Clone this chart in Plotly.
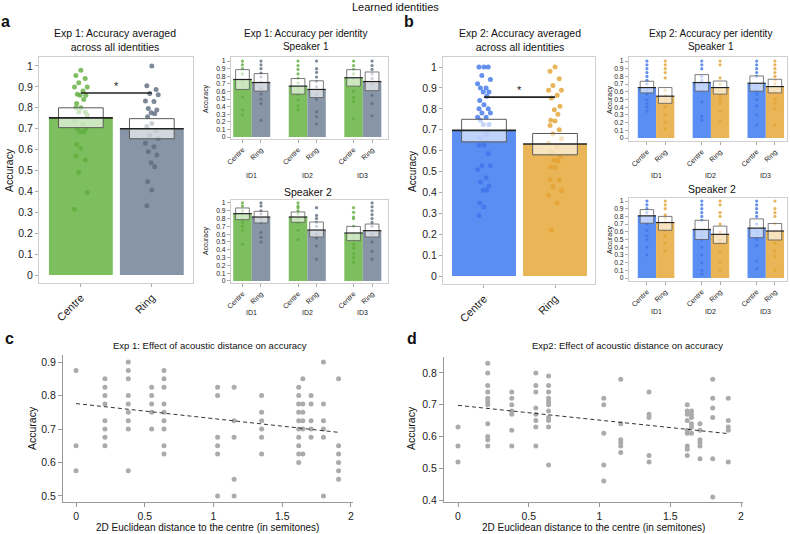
import plotly.graph_objects as go

W, H = 790, 534
def px(x): return x / W
def py(y): return 1 - y / H

FONT = "Liberation Sans, Arial, sans-serif"

# ---------------- data ----------------
conditions = ["Centre", "Ring"]
id_labels = ["ID1", "ID2", "ID3"]
acc_ticks = [0, 0.1, 0.2, 0.3, 0.4, 0.5, 0.6, 0.7, 0.8, 0.9, 1]
acc_ticktext = ["0", "0.1", "0.2", "0.3", "0.4", "0.5", "0.6", "0.7", "0.8", "0.9", "1"]

# Exp 1 averaged
exp1_mean = [0.752, 0.700]
exp1_lo = [0.705, 0.652]
exp1_hi = [0.800, 0.748]
exp1_sig = 0.871
exp1_centre_pts = [0.98, 0.955, 0.94, 0.92, 0.90, 0.90, 0.88, 0.865, 0.86, 0.86, 0.84, 0.82, 0.80, 0.80,
                   0.78, 0.78, 0.765, 0.74, 0.72, 0.70, 0.70, 0.685, 0.685, 0.625, 0.605, 0.57, 0.55,
                   0.49, 0.395, 0.315]
exp1_ring_pts = [1.0, 0.905, 0.887, 0.868, 0.862, 0.833, 0.83, 0.797, 0.79, 0.776, 0.772, 0.757, 0.725,
                 0.71, 0.69, 0.67, 0.653, 0.63, 0.614, 0.59, 0.574, 0.537, 0.518, 0.447, 0.407, 0.332]

# Exp 2 averaged
exp2_mean = [0.697, 0.632]
exp2_lo = [0.642, 0.580]
exp2_hi = [0.750, 0.682]
exp2_sig = 0.856
exp2_centre_pts = [1.0, 1.0, 1.0, 0.96, 0.94, 0.92, 0.90, 0.90, 0.88, 0.88, 0.86, 0.84, 0.82, 0.80, 0.80,
                   0.78, 0.78, 0.76, 0.76, 0.745, 0.725, 0.725, 0.68, 0.66, 0.626, 0.626, 0.586, 0.528,
                   0.528, 0.51, 0.47, 0.45, 0.43, 0.41, 0.41, 0.35, 0.33, 0.29]
exp2_ring_pts = [1.0, 0.98, 0.944, 0.912, 0.889, 0.889, 0.865, 0.852, 0.812, 0.796, 0.774, 0.745, 0.742,
                 0.72, 0.70, 0.68, 0.657, 0.637, 0.618, 0.594, 0.573, 0.554, 0.551, 0.522, 0.519, 0.462,
                 0.459, 0.427, 0.408, 0.387, 0.35, 0.22]

# Exp 1 per identity, speaker 1
e1s1_c_mean = [0.757, 0.670, 0.780]
e1s1_c_lo = [0.626, 0.565, 0.670]
e1s1_c_hi = [0.887, 0.770, 0.887]
e1s1_r_mean = [0.717, 0.626, 0.730]
e1s1_r_lo = [0.604, 0.520, 0.610]
e1s1_r_hi = [0.835, 0.740, 0.856]
e1s1_c_pts = [[1.0, 0.95, 0.9, 0.83, 0.75, 0.7, 0.53, 0.36, 0.29],
              [1.0, 0.94, 0.89, 0.83, 0.77, 0.71, 0.64, 0.56, 0.49, 0.41, 0.36],
              [1.0, 0.94, 0.89, 0.83, 0.77, 0.7, 0.6, 0.52, 0.47, 0.24]]
e1s1_r_pts = [[1.0, 0.95, 0.9, 0.84, 0.79, 0.72, 0.64, 0.565, 0.5, 0.44, 0.22],
              [1.0, 0.9, 0.85, 0.79, 0.73, 0.66, 0.56, 0.5, 0.33, 0.27, 0.17],
              [1.0, 0.94, 0.89, 0.83, 0.77, 0.7, 0.55, 0.44, 0.28]]

# Exp 1 per identity, speaker 2
e1s2_c_mean = [0.863, 0.820, 0.615]
e1s2_c_lo = [0.786, 0.752, 0.517]
e1s2_c_hi = [0.936, 0.885, 0.700]
e1s2_r_mean = [0.820, 0.653, 0.645]
e1s2_r_lo = [0.744, 0.564, 0.564]
e1s2_r_hi = [0.893, 0.756, 0.730]
e1s2_c_pts = [[1.0, 0.96, 0.9, 0.86, 0.8, 0.75, 0.7, 0.65, 0.47],
              [1.0, 0.96, 0.94, 0.9, 0.86, 0.8, 0.75, 0.65, 0.53],
              [0.94, 0.88, 0.82, 0.8, 0.7, 0.6, 0.55, 0.47, 0.42, 0.35, 0.3, 0.24]]
e1s2_r_pts = [[1.0, 0.96, 0.9, 0.86, 0.8, 0.75, 0.62, 0.56, 0.5],
              [0.94, 0.84, 0.8, 0.75, 0.7, 0.6, 0.55, 0.45, 0.28],
              [1.0, 0.95, 0.9, 0.85, 0.8, 0.75, 0.7, 0.6, 0.5, 0.38, 0.28]]

# Exp 2 per identity, speaker 1
e2s1_c_mean = [0.655, 0.720, 0.711]
e2s1_c_lo = [0.586, 0.608, 0.608]
e2s1_c_hi = [0.737, 0.823, 0.806]
e2s1_r_mean = [0.543, 0.655, 0.668]
e2s1_r_lo = [0.450, 0.570, 0.586]
e2s1_r_hi = [0.655, 0.740, 0.763]
e2s1_c_pts = [[1.0, 0.95, 0.9, 0.85, 0.8, 0.75, 0.7, 0.62, 0.57, 0.5, 0.45, 0.4, 0.35],
              [1.0, 0.95, 0.9, 0.8, 0.75, 0.62, 0.47, 0.28, 0.23],
              [1.0, 0.95, 0.9, 0.85, 0.8, 0.7, 0.62, 0.57, 0.5, 0.42, 0.3, 0.17]]
e2s1_r_pts = [[1.0, 0.95, 0.9, 0.85, 0.78, 0.62, 0.55, 0.5, 0.4, 0.3, 0.2, 0.12],
              [1.0, 0.95, 0.78, 0.7, 0.62, 0.55, 0.5, 0.45, 0.35, 0.22],
              [1.0, 0.95, 0.9, 0.85, 0.8, 0.75, 0.7, 0.6, 0.5, 0.45, 0.38, 0.17]]

# Exp 2 per identity, speaker 2
e2s2_c_mean = [0.807, 0.630, 0.648]
e2s2_c_lo = [0.712, 0.500, 0.524]
e2s2_c_hi = [0.888, 0.750, 0.768]
e2s2_r_mean = [0.720, 0.567, 0.610]
e2s2_r_lo = [0.620, 0.450, 0.494]
e2s2_r_hi = [0.800, 0.674, 0.708]
e2s2_c_pts = [[1.0, 0.95, 0.9, 0.85, 0.8, 0.7, 0.62, 0.55, 0.5, 0.4, 0.3],
              [1.0, 0.95, 0.9, 0.85, 0.8, 0.75, 0.62, 0.55, 0.5, 0.4, 0.3, 0.2, 0.1, 0.05],
              [1.0, 0.95, 0.9, 0.85, 0.8, 0.7, 0.6, 0.5, 0.42, 0.22, 0.12]]
e2s2_r_pts = [[1.0, 0.95, 0.9, 0.82, 0.78, 0.72, 0.62, 0.55, 0.45, 0.35],
              [1.0, 0.95, 0.85, 0.8, 0.7, 0.6, 0.5, 0.45, 0.35, 0.2, 0.1],
              [1.0, 0.9, 0.85, 0.8, 0.7, 0.6, 0.45, 0.35, 0.28, 0.1]]

# Acoustic distance panels
dist_cols = [0, 0.21, 0.38, 0.55, 0.64, 1.03, 1.15, 1.35, 1.62, 1.65, 1.71, 1.80, 1.91]
exp1_acc_cols = [
    [0.875, 0.65, 0.575],
    [0.85, 0.825, 0.8, 0.775, 0.725, 0.7, 0.675, 0.65],
    [0.9, 0.875, 0.85, 0.8, 0.775, 0.75, 0.725, 0.7, 0.575],
    [0.825, 0.8, 0.775, 0.75, 0.7],
    [0.875, 0.85, 0.825, 0.775, 0.75, 0.725, 0.7, 0.65, 0.625],
    [0.825, 0.8, 0.675, 0.65, 0.625, 0.5],
    [0.825, 0.725, 0.675, 0.55, 0.5],
    [0.8, 0.75, 0.725, 0.7, 0.675, 0.625],
    [0.825, 0.8, 0.775, 0.75, 0.725, 0.7, 0.675, 0.65, 0.625, 0.6],
    [0.85, 0.775, 0.75, 0.725, 0.7, 0.625],
    [0.8, 0.775, 0.725, 0.7, 0.675],
    [0.9, 0.775, 0.725, 0.7, 0.675, 0.5],
    [0.85, 0.65, 0.625, 0.6, 0.575, 0.55],
]
exp2_acc_cols = [
    [0.63, 0.57, 0.52],
    [0.83, 0.80, 0.76, 0.74, 0.72, 0.71, 0.70, 0.64, 0.60, 0.59, 0.57],
    [0.74, 0.72, 0.70, 0.68, 0.67, 0.62, 0.57],
    [0.80, 0.76, 0.74, 0.69, 0.67, 0.65, 0.63, 0.57],
    [0.79, 0.76, 0.74, 0.72, 0.71, 0.70, 0.68, 0.66, 0.65, 0.63, 0.51],
    [0.72, 0.70, 0.61, 0.51, 0.46],
    [0.78, 0.64, 0.59, 0.58, 0.57, 0.55],
    [0.74, 0.67, 0.66, 0.54, 0.52],
    [0.70, 0.68, 0.67, 0.65, 0.62, 0.61, 0.57, 0.56, 0.54],
    [0.68, 0.67, 0.66, 0.64, 0.63, 0.61],
    [0.64, 0.62, 0.59, 0.58, 0.57, 0.53],
    [0.78, 0.72, 0.69, 0.66, 0.53, 0.41],
    [0.72, 0.65, 0.63, 0.62, 0.52],
]
trend1_x = [0, 1.91]
trend1_y = [0.776, 0.690]
trend2_x = [0, 1.91]
trend2_y = [0.698, 0.609]

# ---------------- styling ----------------
GREEN, GREEN_D = "#7dbf5e", "#5fae3c"
GREY, GREY_D = "#8795a6", "#5e6b7e"
BLUE, BLUE_D = "#5b8ef3", "#3d74ea"
ORANGE, ORANGE_D = "#eab556", "#e3a232"
JITTER = [0.0, -0.07, 0.06, -0.03, 0.09, -0.09, 0.03, -0.05, 0.07, -0.01, 0.04, -0.06]

fig = go.Figure()
shapes = []
annotations = []

def axname(i, kind):
    return kind if i == 1 else f"{kind}{i}"

def layname(i, kind):
    return f"{kind}axis" if i == 1 else f"{kind}axis{i}"

def add_group(i, xs, means, los, his, color, dcolor, pts, bar_w, box_w, dot_size, jitter, lw):
    xa, ya = axname(i, "x"), axname(i, "y")
    fig.add_trace(go.Bar(x=xs, y=means, width=bar_w, marker=dict(color=color, line=dict(width=0)),
                         xaxis=xa, yaxis=ya, showlegend=False, hoverinfo="skip"))
    dx, dy = [], []
    for x, plist in zip(xs, pts):
        for k, v in enumerate(plist):
            dx.append(x + (JITTER[k % len(JITTER)] if jitter else 0))
            dy.append(v)
    fig.add_trace(go.Scatter(x=dx, y=dy, mode="markers", xaxis=xa, yaxis=ya, showlegend=False,
                             marker=dict(color=dcolor, size=dot_size, opacity=0.8, line=dict(width=0)),
                             hoverinfo="skip"))
    for x, m, lo, hi in zip(xs, means, los, his):
        shapes.append(dict(type="rect", xref=xa, yref=ya, x0=x - box_w / 2, x1=x + box_w / 2, y0=lo, y1=hi,
                           fillcolor="rgba(255,255,255,0.62)", line=dict(color="#5a5a5a", width=lw), layer="above"))
        shapes.append(dict(type="line", xref=xa, yref=ya, x0=x - bar_w / 2, x1=x + bar_w / 2, y0=m, y1=m,
                           line=dict(color="#222", width=1.6 if lw > 0.9 else 1.2), layer="above"))

def bar_axes(i, xdom, ydom, xr, yr, xtickvals, xticktext, tfs, xtfs):
    fig.layout[layname(i, "x")] = dict(
        domain=xdom, range=xr, anchor=axname(i, "y"), showline=True, mirror=True, automargin=False,
        linecolor="#cfcfcf", linewidth=1, ticks="outside", ticklen=3, tickcolor="#aaa",
        tickvals=xtickvals, ticktext=xticktext, tickangle=-45, showgrid=False, zeroline=False,
        tickfont=dict(size=xtfs, color="#222", family=FONT), fixedrange=True)
    fig.layout[layname(i, "y")] = dict(
        domain=ydom, range=yr, anchor=axname(i, "x"), showline=True, mirror=True, automargin=False,
        linecolor="#cfcfcf", linewidth=1, ticks="outside", ticklen=3, tickcolor="#aaa",
        tickvals=acc_ticks, ticktext=acc_ticktext, showgrid=False, zeroline=False,
        tickfont=dict(size=tfs, color="#222", family=FONT), fixedrange=True)

# --- main panels ---
main_x = [0, 1]
add_group(1, [main_x[0]], [exp1_mean[0]], [exp1_lo[0]], [exp1_hi[0]], GREEN, GREEN_D, [exp1_centre_pts], 0.9, 0.63, 5, True, 1)
add_group(1, [main_x[1]], [exp1_mean[1]], [exp1_lo[1]], [exp1_hi[1]], GREY, GREY_D, [exp1_ring_pts], 0.9, 0.63, 5, True, 1)
bar_axes(1, [px(39), px(193)], [py(283), py(57)], [-0.59, 1.58], [-0.038, 1.043], main_x, conditions, 10.5, 11)

add_group(4, [main_x[0]], [exp2_mean[0]], [exp2_lo[0]], [exp2_hi[0]], BLUE, BLUE_D, [exp2_centre_pts], 0.9, 0.63, 5, True, 1)
add_group(4, [main_x[1]], [exp2_mean[1]], [exp2_lo[1]], [exp2_hi[1]], ORANGE, ORANGE_D, [exp2_ring_pts], 0.9, 0.63, 5, True, 1)
bar_axes(4, [px(443), px(595)], [py(284), py(57)], [-0.577, 1.563], [-0.038, 1.048], main_x, conditions, 10.5, 11)

# significance brackets
for i, sig in ((1, exp1_sig), (4, exp2_sig)):
    xa, ya = axname(i, "x"), axname(i, "y")
    shapes.append(dict(type="line", xref=xa, yref=ya, x0=main_x[0], x1=main_x[1], y0=sig, y1=sig,
                       line=dict(color="#222", width=1.6), layer="above"))
    annotations.append(dict(text="*", x=0.5, y=sig + 0.035, xref=xa, yref=ya, showarrow=False,
                            font=dict(size=11, color="#222", family=FONT)))

# --- per-identity panels ---
centre_x = [0, 3, 6]
ring_x = [1, 4, 7]
small_tickvals = [0, 1, 3, 4, 6, 7]
small_ticktext = ["Centre", "Ring"] * 3

small_panels = [
    (2, e1s1_c_mean, e1s1_c_lo, e1s1_c_hi, e1s1_c_pts, e1s1_r_mean, e1s1_r_lo, e1s1_r_hi, e1s1_r_pts,
     GREEN, GREEN_D, GREY, GREY_D, [px(231), px(388)], [py(139), py(57)], [-0.62, 7.86], [-0.026, 1.053], 170),
    (3, e1s2_c_mean, e1s2_c_lo, e1s2_c_hi, e1s2_c_pts, e1s2_r_mean, e1s2_r_lo, e1s2_r_hi, e1s2_r_pts,
     GREEN, GREEN_D, GREY, GREY_D, [px(231), px(388)], [py(283), py(200)], [-0.62, 7.86], [-0.026, 1.038], 312),
    (5, e2s1_c_mean, e2s1_c_lo, e2s1_c_hi, e2s1_c_pts, e2s1_r_mean, e2s1_r_lo, e2s1_r_hi, e2s1_r_pts,
     BLUE, BLUE_D, ORANGE, ORANGE_D, [px(629), px(787)], [py(141), py(57)], [-0.98, 7.66], [-0.039, 1.052], 170),
    (6, e2s2_c_mean, e2s2_c_lo, e2s2_c_hi, e2s2_c_pts, e2s2_r_mean, e2s2_r_lo, e2s2_r_hi, e2s2_r_pts,
     BLUE, BLUE_D, ORANGE, ORANGE_D, [px(629), px(787)], [py(281), py(198)], [-0.98, 7.66], [-0.039, 1.039], 311),
]
for (i, cm, cl, ch, cp, rm, rl, rh, rp, c1, d1, c2, d2, xd, yd, xr, yr, id_y) in small_panels:
    add_group(i, centre_x, cm, cl, ch, c1, d1, cp, 1.0, 0.74, 3.2, False, 0.8)
    add_group(i, ring_x, rm, rl, rh, c2, d2, rp, 1.0, 0.74, 3.2, False, 0.8)
    bar_axes(i, xd, yd, xr, yr, small_tickvals, small_ticktext, 6.8, 7)
    for k, lab in enumerate(id_labels):
        annotations.append(dict(text=lab, x=(centre_x[k] + ring_x[k]) / 2, y=py(id_y), xref=axname(i, "x"),
                                yref="paper", showarrow=False, font=dict(size=7, color="#222", family=FONT)))

# --- acoustic distance panels ---
def scatter_panel(i, cols, trend_x, trend_y, xdom, ydom, xr, yr, ytv):
    xs, ys = [], []
    for d, vals in zip(dist_cols, cols):
        for v in vals:
            xs.append(d)
            ys.append(v)
    xa, ya = axname(i, "x"), axname(i, "y")
    fig.add_trace(go.Scatter(x=xs, y=ys, mode="markers", xaxis=xa, yaxis=ya, showlegend=False,
                             marker=dict(color="#ababab", size=5, line=dict(width=0)), hoverinfo="skip"))
    fig.add_trace(go.Scatter(x=trend_x, y=trend_y, mode="lines", xaxis=xa, yaxis=ya, showlegend=False,
                             line=dict(color="#333", width=1, dash="4px,3px"), hoverinfo="skip"))
    fig.layout[layname(i, "x")] = dict(domain=xdom, range=xr, anchor=ya, showline=True, linecolor="#999",
                                       linewidth=1, ticks="outside", ticklen=4, tickcolor="#999", automargin=False,
                                       tickvals=[0, 0.5, 1, 1.5, 2], ticktext=["0", "0.5", "1", "1.5", "2"],
                                       showgrid=False, zeroline=False, fixedrange=True,
                                       tickfont=dict(size=10.5, color="#222", family=FONT))
    fig.layout[layname(i, "y")] = dict(domain=ydom, range=yr, anchor=xa, showline=True, linecolor="#999",
                                       linewidth=1, ticks="outside", ticklen=4, tickcolor="#999", automargin=False,
                                       tickvals=ytv, ticktext=[f"{v:g}" for v in ytv],
                                       showgrid=False, zeroline=False, fixedrange=True,
                                       tickfont=dict(size=10.5, color="#222", family=FONT))

scatter_panel(7, exp1_acc_cols, trend1_x, trend1_y, [px(63), px(353)], [py(502), py(355)],
              [-0.095, 2.015], [0.482, 0.921], [0.5, 0.6, 0.7, 0.8, 0.9])
scatter_panel(8, exp2_acc_cols, trend2_x, trend2_y, [px(444), px(743)], [py(502), py(357)],
              [-0.099, 2.014], [0.394, 0.85], [0.4, 0.5, 0.6, 0.7, 0.8])

# ---------------- text ----------------
def ann(text, x, y, size, angle=0, bold=False, xanchor="center", yanchor="middle"):
    annotations.append(dict(text=f"<b>{text}</b>" if bold else text, x=px(x), y=py(y), xref="paper",
                            yref="paper", showarrow=False, textangle=angle, xanchor=xanchor,
                            yanchor=yanchor, font=dict(size=size, color="#111", family=FONT)))

ann("Learned identities", 395, 7, 11)
ann("a", -1, 22, 16, bold=True, xanchor="left")
ann("b", 402, 22, 16, bold=True, xanchor="left")
ann("c", 3, 338, 16, bold=True, xanchor="left")
ann("d", 405, 338, 16, bold=True, xanchor="left")
ann("Exp 1: Accuracy averaged<br>across all identities", 115, 40, 10.5)
ann("Exp 1: Accuracy per identity<br>Speaker 1", 305, 40, 10)
ann("Speaker 2", 308, 192, 10.5)
ann("Exp 2: Accuracy averaged<br>across all identities", 520, 40, 10.5)
ann("Exp 2: Accuracy per identity<br>Speaker 1", 710, 40, 10)
ann("Speaker 2", 712, 189, 10.5)
ann("Accuracy", 9, 170, 10.5, angle=-90)
ann("Accuracy", 412, 172, 10, angle=-90)
ann("Accuracy", 206, 99, 6.8, angle=-90)
ann("Accuracy", 206, 241, 6.8, angle=-90)
ann("Accuracy", 610, 100, 6.8, angle=-90)
ann("Accuracy", 610, 240, 6.8, angle=-90)
ann("Exp 1: Effect of acoustic distance on accuracy", 210, 345, 9.5)
ann("Exp2: Effect of acoustic distance on accuracy", 627, 345, 9.5)
ann("Accuracy", 32, 428, 10.5, angle=-90)
ann("Accuracy", 411, 428, 10.5, angle=-90)
ann("2D Euclidean distance to the centre (in semitones)", 207, 527, 10)
ann("2D Euclidean distance to the centre (in semitones)", 593, 527, 10)

fig.update_layout(width=W, height=H, margin=dict(l=0, r=0, t=0, b=0, autoexpand=False), paper_bgcolor="white",
                  plot_bgcolor="white", barmode="overlay", shapes=shapes, annotations=annotations,
                  font=dict(family=FONT, color="#222"), showlegend=False)

fig.write_html("out.html", config={"displayModeBar": False},
               post_script="document.body.style.margin='0';document.body.style.padding='0';")
